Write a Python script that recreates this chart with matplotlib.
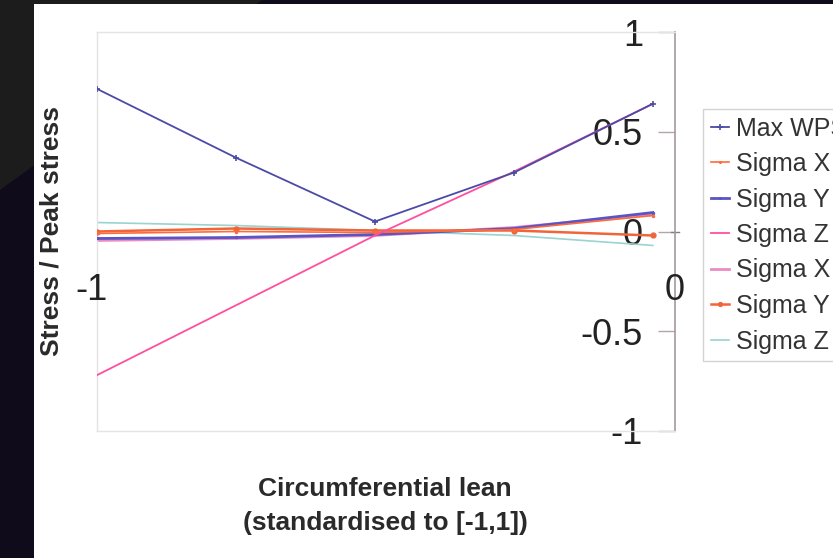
import numpy as np
from matplotlib import pyplot as plt
from matplotlib.patches import Polygon, Rectangle

plt.rcParams['font.family'] = ['Liberation Sans', 'DejaVu Sans']

# lean positions
x = [-1, -0.5, 0, 0.5, 1]

max_wps = [0.715, 0.37, 0.05, 0.295, 0.64]
sigma_x = [-0.01, 0.0, -0.005, 0.01, 0.08]
sigma_y = [-0.035, -0.03, -0.015, 0.015, 0.095]
sigma_z = [-0.72, -0.37, -0.02, 0.30, 0.64]
sigma_x2 = [-0.045, -0.035, -0.02, 0.02, 0.085]
sigma_y2 = [0.0, 0.015, 0.005, 0.005, -0.02]
sigma_z2 = [0.045, 0.03, 0.005, -0.02, -0.07]

labels = ["Max WPS", "Sigma X", "Sigma Y", "Sigma Z", "Sigma X", "Sigma Y", "Sigma Z"]
yticks = [-1, -0.5, 0, 0.5, 1]
ytick_labels = ["-1", "-0.5", "0", "0.5", "1"]
xtick_pos = [-1.02, 1.08]
xtick_labels = ["-1", "0"]

W, H = 833, 558
fig = plt.figure(figsize=(W / 100, H / 100), dpi=100)
fig.patch.set_facecolor('#0f0b1a')

# dark backdrop with the grey diagonal corner, then the white panel
fig.patches.append(Polygon([(0, 1), (262 / W, 1), (0, 1 - 190 / H)], closed=True,
                           transform=fig.transFigure, facecolor='#1c1c1c', edgecolor='none', zorder=0))
fig.patches.append(Rectangle((34 / W, 0), 1 - 34 / W, 1 - 4 / H, transform=fig.transFigure,
                             facecolor='white', edgecolor='none', zorder=1))

ax = fig.add_axes([97 / W, 1 - 431 / H, (675 - 97) / W, (431 - 32) / H])
ax.set_zorder(5)
ax.set_facecolor('none')
ax.set_xlim(-1, 1.08)
ax.set_ylim(-1, 1)

ax.plot(x, max_wps, color='#4b4ba6', lw=1.3, marker='+', ms=5, mew=1.2, label=labels[0], zorder=5)
ax.plot(x, sigma_x, color='#ff6a3c', lw=1.2, marker='.', ms=3, label=labels[1], zorder=4)
ax.plot(x, sigma_y, color='#5a55c4', lw=2.0, marker='.', ms=3, label=labels[2], zorder=3)
ax.plot(x, sigma_z, color='#ff4f9e', lw=1.3, label=labels[3], zorder=4)
ax.plot(x, sigma_x2, color='#e98bc4', lw=2.0, label=labels[4], zorder=2)
ax.plot(x, sigma_y2, color='#f0653a', lw=1.8, marker='o', ms=3.5, label=labels[5], zorder=3)
ax.plot(x, sigma_z2, color='#9ad3cf', lw=1.2, label=labels[6], zorder=2)

for s in ['left', 'top', 'bottom']:
    ax.spines[s].set_color('#e4e4e4')
    ax.spines[s].set_linewidth(1)
ax.spines['right'].set_color('#a89898')
ax.spines['right'].set_linewidth(1.2)

ax.set_xticks([])
ax.yaxis.tick_right()
ax.set_yticks(yticks)
ax.set_yticklabels(ytick_labels)
ax.tick_params(axis='y', direction='in', length=12, width=1, colors='#b0a8a8',
               labelcolor='#222222', labelsize=26, pad=-23)
for lbl in ax.get_yticklabels():
    lbl.set_horizontalalignment('right')
ax.plot([1.065, 1.095], [0, 0], color='#808080', lw=1, clip_on=False)

for xp, t in zip(xtick_pos, xtick_labels):
    ax.text(xp, -0.295, t, fontsize=26, color='#222222', ha='center', va='center')

fig.text(52 / W, 1 - 231 / H, "Stress / Peak stress", rotation=90, fontsize=19,
         fontweight='bold', color='#2a2a2a', ha='center', va='center', zorder=6)
fig.text(385 / W, 1 - 506 / H, "Circumferential lean\n(standardised to [-1,1])", fontsize=19,
         fontweight='bold', color='#2a2a2a', ha='center', va='center', linespacing=1.5, zorder=6)

leg = ax.legend(loc='upper left', bbox_to_anchor=(703 / W, 1 - 109 / H),
                bbox_transform=fig.transFigure, fontsize=18, frameon=True, fancybox=False,
                borderaxespad=0, handlelength=0.75, handletextpad=0.25, labelspacing=0.46,
                borderpad=0.3, markerscale=0.8)
leg.get_frame().set_edgecolor('#c8c8c8')
leg.get_frame().set_linewidth(1)
for t in leg.get_texts():
    t.set_color('#333333')

fig.savefig('out.png', dpi=100)
